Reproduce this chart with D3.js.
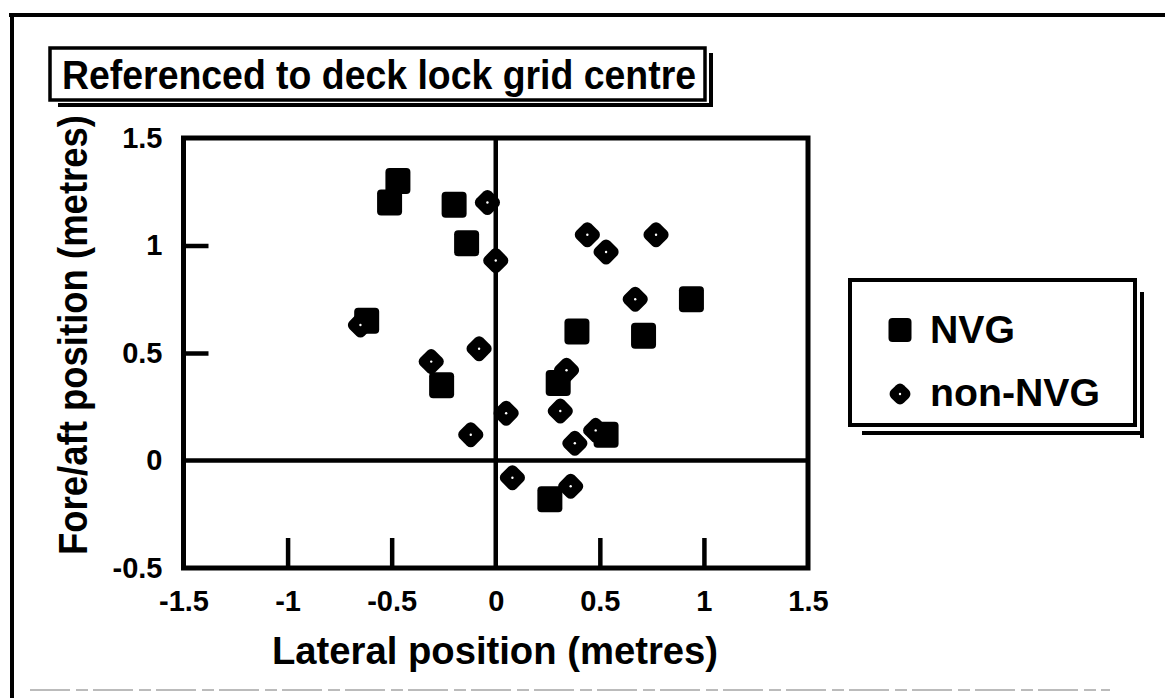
<!DOCTYPE html>
<html><head><meta charset="utf-8">
<script src="https://cdn.jsdelivr.net/npm/d3@7"></script>
<style>
body{margin:0;background:#fff}
svg{display:block}
text{font-family:"Liberation Sans",Arial,Helvetica,sans-serif;font-weight:bold;fill:#000}
</style></head><body>
<svg id="chart" width="1165" height="698"></svg>
<script>
// Touchdown positions relative to the deck lock grid centre (metres)
const nvgLateral   = [-0.47, -0.51, -0.20, -0.14, -0.62, -0.26, 0.94, 0.39, 0.71, 0.30, 0.53, 0.26];
const nvgForeAft   = [ 1.30,  1.20,  1.19,  1.01,  0.65,  0.35, 0.75, 0.60, 0.58, 0.36, 0.12, -0.18];
const nonNvgLateral = [-0.04, 0.00, -0.65, -0.08, -0.31, 0.05, -0.12, 0.08, 0.44, 0.53, 0.77, 0.67, 0.34, 0.31, 0.48, 0.38, 0.36];
const nonNvgForeAft = [ 1.20, 0.93,  0.63,  0.52,  0.46, 0.22,  0.12, -0.08, 1.05, 0.97, 1.05, 0.75, 0.42, 0.23, 0.14, 0.08, -0.12];

const xTickValues = [-1.5, -1, -0.5, 0, 0.5, 1, 1.5];
const xTickLabels = ["-1.5", "-1", "-0.5", "0", "0.5", "1", "1.5"];
const yTickValues = [-0.5, 0, 0.5, 1, 1.5];
const yTickLabels = ["-0.5", "0", "0.5", "1", "1.5"];
const xInnerTicks = [-1, -0.5, 0.5, 1];
const yInnerTicks = [0.5, 1];
const seriesNames = ["NVG", "non-NVG"];
const titleText = "Referenced to deck lock grid centre";
const xTitle = "Lateral position (metres)";
const yTitle = "Fore/aft position (metres)";

const svg = d3.select("#chart");
svg.append("rect").attr("width", 1165).attr("height", 698).attr("fill", "#fff");

// outer page frame
svg.append("line").attr("x1", 9).attr("x2", 1165).attr("y1", 15).attr("y2", 15)
  .attr("stroke", "#000").attr("stroke-width", 4);
svg.append("line").attr("x1", 12).attr("x2", 12).attr("y1", 13).attr("y2", 698)
  .attr("stroke", "#000").attr("stroke-width", 4);
svg.append("line").attr("x1", 30).attr("x2", 1110).attr("y1", 690).attr("y2", 690)
  .attr("stroke", "#bbb").attr("stroke-width", 2).attr("stroke-dasharray", "40 6 12 5");

// title box with drop shadow
const tb = {x: 50, y: 48, w: 655, h: 52};
svg.append("line").attr("x1", tb.x + 8).attr("x2", tb.x + tb.w + 8).attr("y1", tb.y + tb.h + 5).attr("y2", tb.y + tb.h + 5)
  .attr("stroke", "#000").attr("stroke-width", 4);
svg.append("line").attr("x1", tb.x + tb.w + 6).attr("x2", tb.x + tb.w + 6).attr("y1", tb.y + 5).attr("y2", tb.y + tb.h + 7)
  .attr("stroke", "#000").attr("stroke-width", 4);
svg.append("rect").attr("x", tb.x).attr("y", tb.y).attr("width", tb.w).attr("height", tb.h)
  .attr("fill", "#fff").attr("stroke", "#000").attr("stroke-width", 3.5);
svg.append("text").attr("x", 62).attr("y", 89).style("font-size", "40px")
  .attr("textLength", 634).attr("lengthAdjust", "spacingAndGlyphs").text(titleText);

// scales
const x = d3.scaleLinear().domain([-1.5, 1.5]).range([183.5, 808]);
const y = d3.scaleLinear().domain([-0.5, 1.5]).range([568, 138]);

// plot frame
svg.append("rect").attr("x", x(-1.5)).attr("y", y(1.5))
  .attr("width", x(1.5) - x(-1.5)).attr("height", y(-0.5) - y(1.5))
  .attr("fill", "#fff").attr("stroke", "#000").attr("stroke-width", 5);

// zero reference lines
svg.append("line").attr("x1", x(0)).attr("x2", x(0)).attr("y1", y(1.5)).attr("y2", y(-0.5))
  .attr("stroke", "#000").attr("stroke-width", 4.5);
svg.append("line").attr("x1", x(-1.5)).attr("x2", x(1.5)).attr("y1", y(0)).attr("y2", y(0))
  .attr("stroke", "#000").attr("stroke-width", 4.5);

// inward ticks
const xTicksG = svg.append("g").attr("transform", `translate(0,${y(-0.5)})`)
  .call(d3.axisTop(x).tickValues(xInnerTicks).tickSize(30).tickFormat(""));
const yTicksG = svg.append("g").attr("transform", `translate(${x(-1.5)},0)`)
  .call(d3.axisRight(y).tickValues(yInnerTicks).tickSize(25).tickFormat(""));
[xTicksG, yTicksG].forEach(g => {
  g.select(".domain").remove();
  g.selectAll("line").attr("stroke", "#000").attr("stroke-width", 4.5);
});

// tick labels
const xLab = svg.append("g").attr("transform", `translate(0,${y(-0.5)})`)
  .call(d3.axisBottom(x).tickValues(xTickValues).tickSize(0).tickPadding(22)
    .tickFormat((d, i) => xTickLabels[i]));
const yLab = svg.append("g").attr("transform", `translate(${x(-1.5)},0)`)
  .call(d3.axisLeft(y).tickValues(yTickValues).tickSize(0).tickPadding(21)
    .tickFormat((d, i) => yTickLabels[i]));
[xLab, yLab].forEach(g => {
  g.select(".domain").remove();
  g.attr("font-family", null).attr("font-size", null);
  g.selectAll("text").style("font-size", "29px").attr("fill", "#000");
});

// axis titles
svg.append("text").attr("x", 495).attr("y", 664).attr("text-anchor", "middle")
  .style("font-size", "39px").attr("textLength", 446).attr("lengthAdjust", "spacingAndGlyphs").text(xTitle);
svg.append("text").attr("transform", "translate(87,335) rotate(-90)").attr("text-anchor", "middle")
  .style("font-size", "40px").attr("textLength", 440).attr("lengthAdjust", "spacingAndGlyphs").text(yTitle);

// marker drawing helpers
function square(g, cx, cy, w, h) {
  g.append("rect").attr("x", cx - w / 2).attr("y", cy - h / 2).attr("width", w).attr("height", h)
    .attr("rx", 4).attr("fill", "#000");
}
function diamond(g, cx, cy, s) {
  g.append("rect").attr("x", -s / 2).attr("y", -s / 2).attr("width", s).attr("height", s)
    .attr("rx", 5.5).attr("fill", "#000")
    .attr("transform", `translate(${cx},${cy}) rotate(45)`);
  g.append("circle").attr("cx", cx).attr("cy", cy).attr("r", 1.2).attr("fill", "#fff");
}

const marks = svg.append("g");
nvgLateral.forEach((v, i) => square(marks, x(v), y(nvgForeAft[i]), 25, 26));
nonNvgLateral.forEach((v, i) => diamond(marks, x(v), y(nonNvgForeAft[i]), 21));

// legend box with drop shadow
const lb = {x: 850, y: 280, w: 285, h: 145};
svg.append("line").attr("x1", lb.x + 12).attr("x2", lb.x + lb.w + 5).attr("y1", lb.y + lb.h + 8).attr("y2", lb.y + lb.h + 8)
  .attr("stroke", "#000").attr("stroke-width", 4);
svg.append("line").attr("x1", lb.x + lb.w + 7).attr("x2", lb.x + lb.w + 7).attr("y1", lb.y + 12).attr("y2", lb.y + lb.h + 13)
  .attr("stroke", "#000").attr("stroke-width", 4);
svg.append("rect").attr("x", lb.x).attr("y", lb.y).attr("width", lb.w).attr("height", lb.h)
  .attr("fill", "#fff").attr("stroke", "#000").attr("stroke-width", 4);
const leg = svg.append("g");
square(leg, 900, 330, 23, 24);
diamond(leg, 900, 394, 18);
svg.append("text").attr("x", 930).attr("y", 343).style("font-size", "38px")
  .attr("textLength", 85).attr("lengthAdjust", "spacingAndGlyphs").text(seriesNames[0]);
svg.append("text").attr("x", 930).attr("y", 406).style("font-size", "38px")
  .attr("textLength", 170).attr("lengthAdjust", "spacingAndGlyphs").text(seriesNames[1]);
</script>
</body></html>
